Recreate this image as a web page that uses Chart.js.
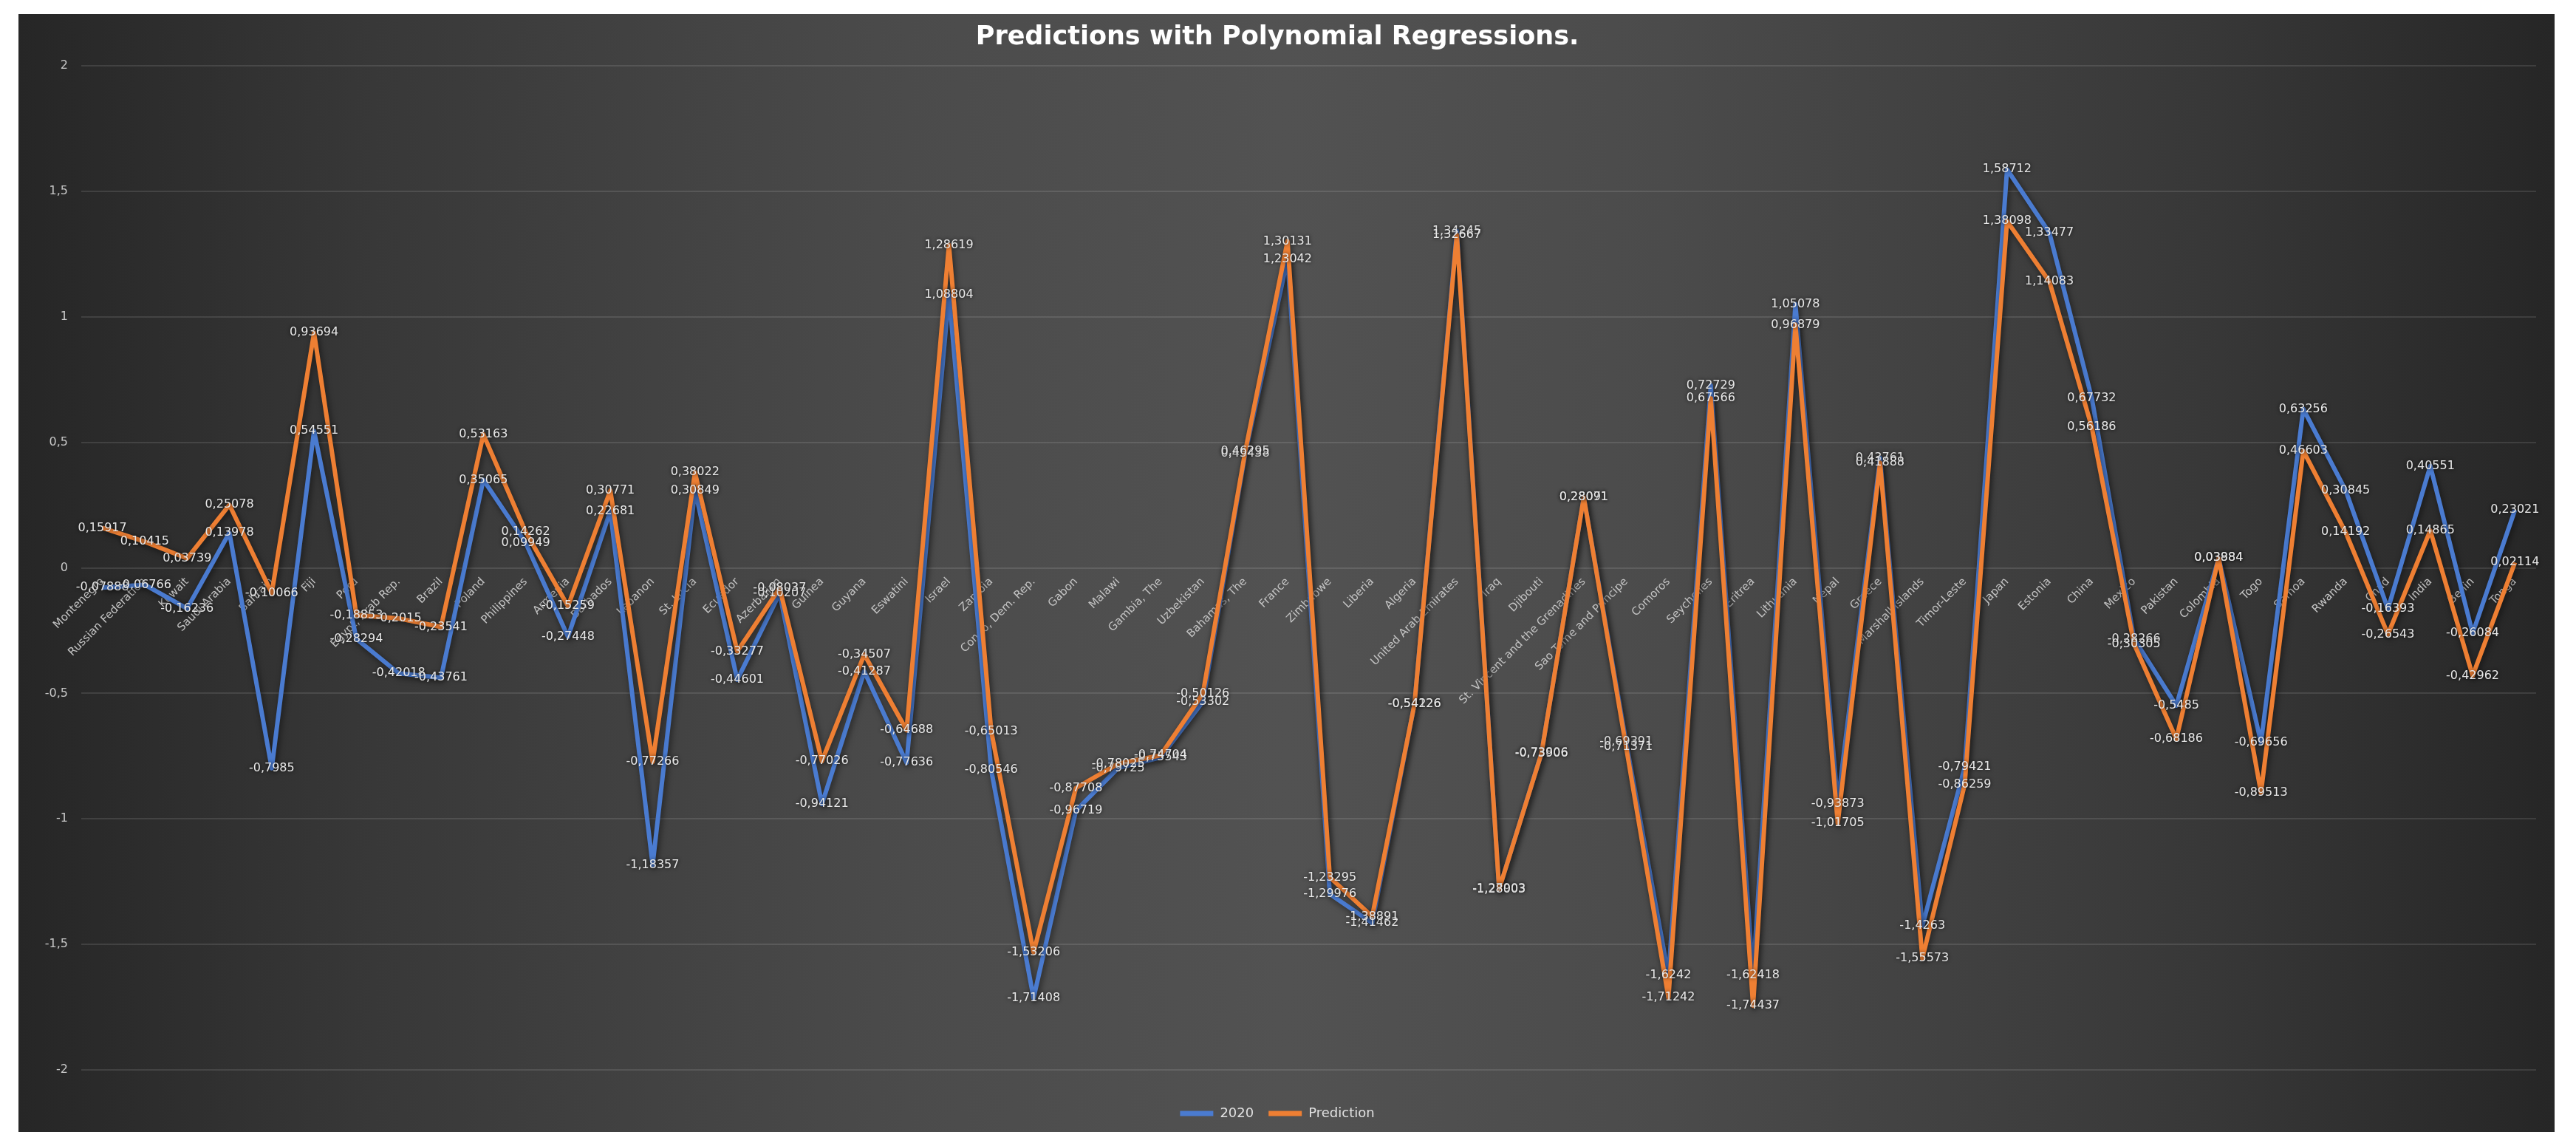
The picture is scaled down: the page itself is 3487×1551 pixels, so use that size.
<!DOCTYPE html>
<html>
<head>
<meta charset="utf-8">
<script src="https://cdn.jsdelivr.net/npm/chart.js@4.4.1/dist/chart.umd.min.js"></script>
<style>
  html, body { margin: 0; padding: 0; background: #ffffff; }
  #box {
    position: absolute; left: 25px; top: 19px; width: 3433px; height: 1513px;
    background: linear-gradient(to right, #262626 0%, #383838 14%, #4b4b4b 35%, #525252 50%, #4b4b4b 65%, #383838 86%, #262626 100%);
  }
</style>
</head>
<body>
<div id="box"><canvas id="chart"></canvas></div>
<script>
const countries = [
  "Montenegro", "Russian Federation", "Kuwait", "Saudi Arabia", "Bahrain", "Fiji", "Peru",
  "Egypt, Arab Rep.", "Brazil", "Poland", "Philippines", "Armenia", "Barbados", "Lebanon",
  "St. Lucia", "Ecuador", "Azerbaijan", "Guinea", "Guyana", "Eswatini", "Israel", "Zambia",
  "Congo, Dem. Rep.", "Gabon", "Malawi", "Gambia, The", "Uzbekistan", "Bahamas, The", "France",
  "Zimbabwe", "Liberia", "Algeria", "United Arab Emirates", "Iraq", "Djibouti",
  "St. Vincent and the Grenadines", "Sao Tome and Principe", "Comoros", "Seychelles", "Eritrea",
  "Lithuania", "Nepal", "Greece", "Marshall Islands", "Timor-Leste", "Japan", "Estonia", "China",
  "Mexico", "Pakistan", "Colombia", "Togo", "Samoa", "Rwanda", "Chad", "India", "Benin", "Tonga"
];

const values2020 = [
  -0.07888, -0.06766, -0.16236, 0.13978, -0.7985, 0.54551, -0.28294,
  -0.42018, -0.43761, 0.35065, 0.09949, -0.27448, 0.22681, -1.18357,
  0.30849, -0.44601, -0.10207, -0.94121, -0.41287, -0.77636, 1.08804, -0.80546,
  -1.71408, -0.96719, -0.79725, -0.75543, -0.53302, 0.45438, 1.23042,
  -1.29976, -1.41462, -0.54126, 1.34245, -1.27903, -0.73806,
  0.28071, -0.69391, -1.6242, 0.72729, -1.62418,
  1.05078, -0.93873, 0.43761, -1.4263, -0.79421, 1.58712, 1.33477, 0.67732,
  -0.28266, -0.5485, 0.03984, -0.69656, 0.63256, 0.30845, -0.16393, 0.40551, -0.26084, 0.23021
];

const valuesPrediction = [
  0.15917, 0.10415, 0.03739, 0.25078, -0.10066, 0.93694, -0.18853,
  -0.2015, -0.23541, 0.53163, 0.14262, -0.15259, 0.30771, -0.77266,
  0.38022, -0.33277, -0.08037, -0.77026, -0.34507, -0.64688, 1.28619, -0.65013,
  -1.53206, -0.87708, -0.78025, -0.74704, -0.50126, 0.46295, 1.30131,
  -1.23295, -1.38891, -0.54226, 1.32667, -1.28003, -0.73906,
  0.28091, -0.71371, -1.71242, 0.67566, -1.74437,
  0.96879, -1.01705, 0.41888, -1.55573, -0.86259, 1.38098, 1.14083, 0.56186,
  -0.30305, -0.68186, 0.03884, -0.89513, 0.46603, 0.14192, -0.26543, 0.14865, -0.42962, 0.02114
];

const yTicks = [-2, -1.5, -1, -0.5, 0, 0.5, 1, 1.5, 2];

const comma = v => String(v).replace(".", ",");

// soft shadow under the lines, like the office style
const lineShadow = {
  id: "lineShadow",
  beforeDatasetDraw(chart) {
    const ctx = chart.ctx;
    ctx.save();
    ctx.shadowColor = "rgba(0,0,0,0.55)";
    ctx.shadowBlur = 8;
    ctx.shadowOffsetX = 2;
    ctx.shadowOffsetY = 3;
  },
  afterDatasetDraw(chart) {
    chart.ctx.restore();
  }
};

// value labels centred on every point
const valueLabels = {
  id: "valueLabels",
  afterDatasetsDraw(chart) {
    const ctx = chart.ctx;
    ctx.save();
    ctx.font = '16px "DejaVu Sans"';
    ctx.textAlign = "center";
    ctx.textBaseline = "middle";
    ctx.fillStyle = "#e8e8e8";
    ctx.shadowColor = "rgba(0,0,0,0.85)";
    ctx.shadowBlur = 5;
    chart.data.datasets.forEach((ds, i) => {
      const meta = chart.getDatasetMeta(i);
      meta.data.forEach((pt, j) => {
        ctx.fillText(comma(ds.data[j]), pt.x, pt.y);
      });
    });
    ctx.restore();
  }
};

const ctx = document.getElementById("chart").getContext("2d");

const chart = new Chart(ctx, {
  type: "line",
  data: {
    labels: countries,
    datasets: [
      {
        label: "2020",
        data: values2020,
        borderColor: "#4a7bd0",
        backgroundColor: "#4a7bd0",
        borderWidth: 6,
        pointRadius: 0,
        tension: 0,
        borderJoinStyle: "round",
        order: 1,
      },
      {
        label: "Prediction",
        data: valuesPrediction,
        borderColor: "#ee7f33",
        backgroundColor: "#ee7f33",
        borderWidth: 6,
        pointRadius: 0,
        tension: 0,
        borderJoinStyle: "round",
        order: 0,
      },
    ],
  },
  options: {
    responsive: true,
    maintainAspectRatio: false,
    devicePixelRatio: 1,
    animation: false,
    layout: { padding: { left: 0, right: 25, top: 0, bottom: 6 } },
    plugins: {
      tooltip: { enabled: false },
      title: {
        display: true,
        text: "Predictions with Polynomial Regressions.",
        color: "#ffffff",
        font: { family: "DejaVu Sans", size: 35, weight: "bold" },
        padding: { top: 11, bottom: 17 },
      },
      legend: {
        position: "bottom",
        labels: {
          color: "#e0e0e0",
          font: { family: "DejaVu Sans", size: 18 },
          boxWidth: 45,
          boxHeight: 7,
          padding: 20,
          sort: (a, b) => a.datasetIndex - b.datasetIndex,
          generateLabels: (c) =>
            Chart.defaults.plugins.legend.labels.generateLabels(c).map(l => ({ ...l, lineWidth: 0 })),
        },
      },
    },
    scales: {
      x: {
        type: "category",
        position: { y: 0 },
        offset: true,
        grid: { display: false, drawTicks: false },
        border: { display: false },
        ticks: {
          autoSkip: false,
          minRotation: 45,
          maxRotation: 45,
          padding: 10,
          color: "#c4c4c4",
          font: { family: "DejaVu Sans", size: 15 },
        },
      },
      spacer: {
        type: "category",
        position: "bottom",
        grid: { display: false, drawTicks: false },
        border: { display: false },
        ticks: { display: false },
        afterFit: (s) => { s.height = 30; },
      },
      y: {
        min: -2,
        max: 2,
        afterBuildTicks: (s) => { s.ticks = yTicks.map(v => ({ value: v })); },
        afterFit: (s) => { s.width = 85; },
        grid: { color: "rgba(255,255,255,0.11)", lineWidth: 2, drawTicks: false },
        border: { display: false },
        ticks: {
          padding: 18,
          color: "#c8c8c8",
          font: { family: "DejaVu Sans", size: 16 },
          callback: (v) => comma(v),
        },
      },
    },
  },
  plugins: [lineShadow, valueLabels],
});
</script>
</body>
</html>
